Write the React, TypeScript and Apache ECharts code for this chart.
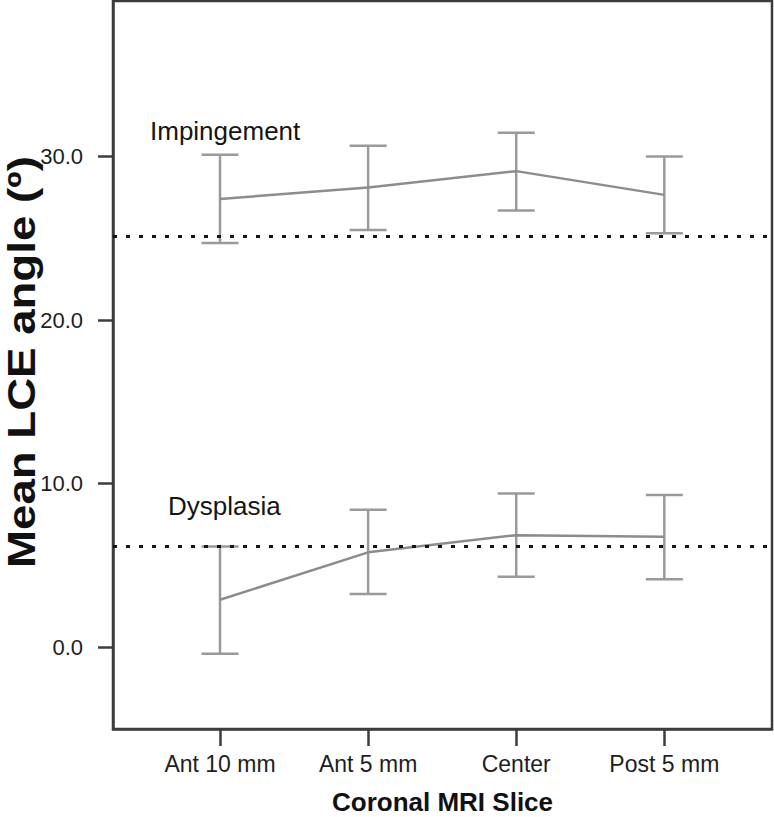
import React, { useEffect, useRef } from "react";
import * as echarts from "echarts";

const categories = ["Ant 10 mm", "Ant 5 mm", "Center", "Post 5 mm"];
const impMean = [27.4, 28.1, 29.1, 27.65];
const impLow = [24.7, 25.5, 26.7, 25.3];
const impHigh = [30.1, 30.65, 31.45, 30.0];
const dysMean = [2.9, 5.8, 6.85, 6.75];
const dysLow = [-0.4, 3.25, 4.3, 4.15];
const dysHigh = [6.15, 8.4, 9.4, 9.3];
const refLines = [25.1, 6.2];
const yTicks = [0, 10, 20, 30];
const groupLabels = ["Impingement", "Dysplasia"];
const yTitle = "Mean LCE angle (º)";
const xTitle = "Coronal MRI Slice";

const FONT = "Liberation Sans, Arial, sans-serif";

export default function App() {
  const ref = useRef<HTMLDivElement>(null);
  useEffect(() => {
    if (!ref.current) return;
    const chart = echarts.init(ref.current, undefined, { renderer: "svg" });
    const xs = categories.map((_, i) => i + 1);
    const errData = (lo: number[], hi: number[]) => xs.map((x, i) => [x, lo[i], hi[i]]);
    const renderErr = (params: any, api: any) => {
      const x = api.value(0);
      const p1 = api.coord([x, api.value(1)]);
      const p2 = api.coord([x, api.value(2)]);
      const hw = 18.5;
      const style = { stroke: "#9a9a9a", lineWidth: 2.5, fill: "none" };
      return {
        type: "group",
        children: [
          { type: "line", shape: { x1: p1[0], y1: p1[1], x2: p2[0], y2: p2[1] }, style },
          { type: "line", shape: { x1: p1[0] - hw, y1: p1[1], x2: p1[0] + hw, y2: p1[1] }, style },
          { type: "line", shape: { x1: p2[0] - hw, y1: p2[1], x2: p2[0] + hw, y2: p2[1] }, style },
        ],
      };
    };
    const option: any = {
      animation: false,
      backgroundColor: "#ffffff",
      textStyle: { fontFamily: FONT },
      grid: {
        left: 113,
        right: 2,
        top: 1,
        bottom: 88,
        outerBoundsMode: "none",
        containLabel: false,
        show: true,
        borderColor: "#3c3c3c",
        borderWidth: 2.5,
        backgroundColor: "transparent",
      },
      xAxis: {
        type: "value",
        min: 0.2775,
        max: 4.727,
        splitLine: { show: false },
        axisLine: { show: true, onZero: false, lineStyle: { color: "#3c3c3c", width: 2.5 } },
        axisTick: { show: true, customValues: xs, length: 17, lineStyle: { color: "#3c3c3c", width: 2.5 } },
        axisLabel: {
          customValues: xs,
          formatter: (v: number) => categories[Math.round(v) - 1] ?? "",
          fontSize: 23,
          color: "#1e1e1e",
          margin: 23,
          fontFamily: FONT,
        },
        name: xTitle,
        nameLocation: "middle",
        nameGap: 60,
        nameTextStyle: { fontSize: 26, fontWeight: "bold", color: "#111", fontFamily: FONT },
      },
      yAxis: {
        type: "value",
        min: -5,
        max: 39.5,
        splitLine: { show: false },
        axisLine: { show: true, onZero: false, lineStyle: { color: "#3c3c3c", width: 2.5 } },
        axisTick: { show: true, customValues: yTicks, length: 15, lineStyle: { color: "#3c3c3c", width: 2.5 } },
        axisLabel: {
          show: true,
          customValues: yTicks,
          formatter: (v: number) => v.toFixed(1),
          fontSize: 22,
          color: "#1e1e1e",
          margin: 30,
          fontFamily: FONT,
        },
      },
      series: [
        {
          type: "line",
          data: xs.map((x, i) => [x, impMean[i]]),
          symbol: "none",
          lineStyle: { color: "#8c8c8c", width: 2.5 },
          z: 3,
          markLine: {
            silent: true,
            symbol: "none",
            label: { show: false },
            lineStyle: { color: "#151515", width: 3, type: [4, 9] },
            data: refLines.map((v) => ({ yAxis: v })),
          },
        },
        {
          type: "line",
          data: xs.map((x, i) => [x, dysMean[i]]),
          symbol: "none",
          lineStyle: { color: "#8c8c8c", width: 2.5 },
          z: 3,
        },
        { type: "custom", data: errData(impLow, impHigh), renderItem: renderErr, z: 2 },
        { type: "custom", data: errData(dysLow, dysHigh), renderItem: renderErr, z: 2 },
      ],
      graphic: [
        {
          type: "text",
          left: 150,
          top: 117.5,
          style: { text: groupLabels[0], fontSize: 26, fill: "#151515", fontFamily: FONT, verticalAlign: "middle" },
        },
        {
          type: "text",
          left: 168,
          top: 492.5,
          style: { text: groupLabels[1], fontSize: 26, fill: "#151515", fontFamily: FONT, verticalAlign: "middle" },
        },
        {
          type: "text",
          x: 22,
          y: 362,
          rotation: Math.PI / 2,
          scaleX: 1.2,
          style: {
            text: yTitle,
            fontSize: 38,
            fontWeight: "bold",
            fill: "#111",
            fontFamily: FONT,
            align: "center",
            verticalAlign: "middle",
          },
        },
      ],
    };
    chart.setOption(option);
    return () => chart.dispose();
  }, []);
  return (
    <div
      ref={ref}
      style={{ position: "fixed", left: 0, top: 0, width: 774, height: 817, background: "#fff" }}
    />
  );
}
